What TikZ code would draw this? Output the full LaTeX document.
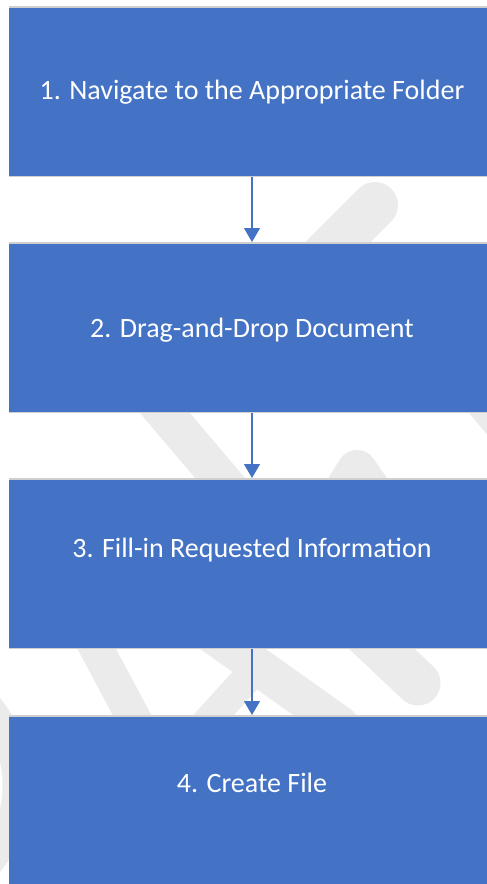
\documentclass[tikz,border=0pt]{standalone}
\usepackage{fontspec}
\setmainfont{Carlito}
\usetikzlibrary{arrows.meta}
\definecolor{stepblue}{HTML}{4472C4}
\definecolor{wmgray}{HTML}{EBEBEB}
\definecolor{edgegray}{HTML}{CFCFCF}
\tikzset{
  stepbox/.style={rectangle, fill=stepblue, draw=none, minimum width=486pt,
    minimum height=171pt, inner sep=0pt, anchor=north},
  steptext/.style={text=white, font=\fontsize{28pt}{30pt}\selectfont, anchor=base, inner sep=0pt},
  flow/.style={draw=stepblue, line width=1.3pt, -{Triangle[width=16pt,length=14pt]}},
  mark stroke/.style={draw=wmgray, line cap=round, line join=round},
  edgeline/.style={draw=edgegray, line width=1.6pt}
}
\begin{document}
\begin{tikzpicture}[x=1pt, y=-1pt]
  \clip (0,0) rectangle (487,884);
  \fill[white] (0,0) rectangle (487,884);

  % faint watermark strokes behind the flow
  \draw[mark stroke, line width=46pt] (375,205) -- (200,380);
  \draw[mark stroke, line width=38pt] (80,313) -- (305,578);
  \draw[mark stroke, line width=40pt] (300,560) -- (357,470) -- (420,560);
  \draw[mark stroke, line width=40pt] (400,300) -- (560,490);
  \draw[mark stroke, line width=34pt] (60,580) -- (140,730);
  \draw[mark stroke, line width=38pt] (150,590) -- (340,725);
  \draw[mark stroke, line width=30pt] (200,730) -- (250,675);
  \draw[mark stroke, line width=45pt] (330,600) -- (418,683);
  \draw[mark stroke, line width=28pt] (-109,785) circle[radius=125.5pt];

  % the four steps
  \node[stepbox] (s1) at (252,6)   {};
  \node[stepbox] (s2) at (252,242) {};
  \node[stepbox] (s3) at (252,478) {};
  \node[stepbox] (s4) at (252,715) {};

  % soft grey rims along the top and bottom of each box
  \foreach \b in {s1,s2,s3,s4}{
    \draw[edgeline] ([yshift=-0.8pt]\b.north west) -- ([yshift=-0.8pt]\b.north east);
    \draw[edgeline] ([yshift=0.8pt]\b.south west) -- ([yshift=0.8pt]\b.south east);
  }

  \node[steptext] (t1) at (252,99)  {1. Navigate to the Appropriate Folder};
  \node[steptext] (t2) at (252,337) {2. Drag-and-Drop Document};
  \node[steptext] (t3) at (252,557) {3. Fill-in Requested Information};
  \node[steptext] (t4) at (252,792) {4. Create File};

  % connectors between consecutive steps
  \draw[flow] (s1.south) -- (s2.north);
  \draw[flow] (s2.south) -- (s3.north);
  \draw[flow] (s3.south) -- (s4.north);
\end{tikzpicture}
\end{document}
